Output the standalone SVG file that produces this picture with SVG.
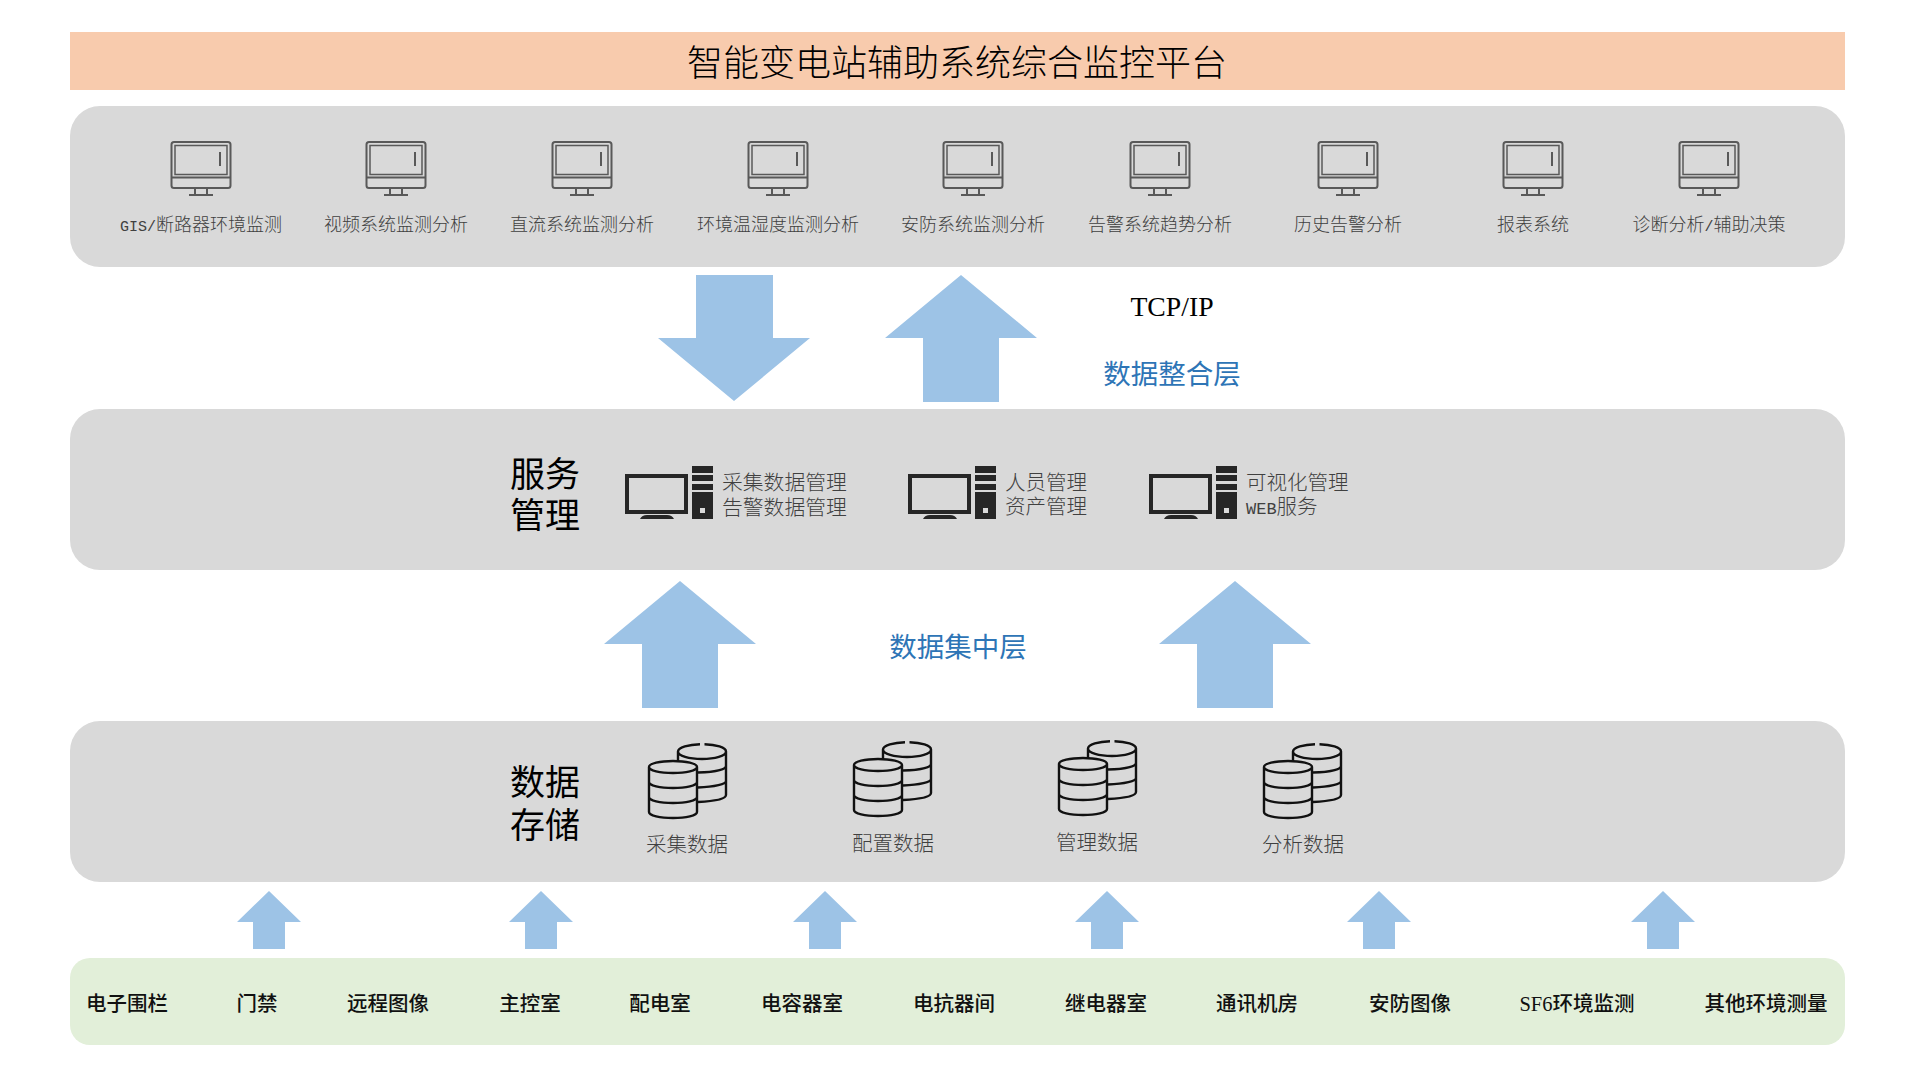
<svg xmlns="http://www.w3.org/2000/svg" width="1920" height="1080" viewBox="0 0 1920 1080">
<style>
text{font-family:"Liberation Serif","Noto Sans CJK SC",serif;text-anchor:middle}
.panel{fill:#d9d9d9}
.arrow{fill:#9dc3e6}
.t18{font-size:18px;fill:#404040;font-weight:300}
.t21{font-size:20.5px;fill:#404040;font-weight:300}
.s{text-anchor:start}
.m{font-family:"Liberation Mono",monospace}
.big{font-size:35px;fill:#000;font-weight:400}
.layer{font-size:27.5px;fill:#2e75b6;font-weight:400}
.bot{font-size:20.5px;fill:#111;font-weight:500}
.ml{fill:none;stroke:#595959;stroke-width:2}
.db{fill:none;stroke:#111;stroke-width:2.400}
</style>
<defs>
<g id="mon">
<rect class="ml" x="-29.500" y="1" width="59" height="46" rx="2.500"/>
<rect class="ml" x="-26" y="4.500" width="52" height="29" style="stroke-width:1.500"/>
<path class="ml" d="M-29.500 36.500H29.500M19 11V25"/>
<path class="ml" d="M-6 47V53M6 47V53M-12 54H12"/>
</g>
<g id="pc">
<path fill="#262626" fill-rule="evenodd" d="M0 8H63V48H0ZM4 12V44H59V12ZM15 53Q17 49 22 49H42Q47 49 49 53Z"/>
<path fill="#262626" fill-rule="evenodd" d="M67 0H88V7H67ZM67 9H88V15H67ZM67 18H88V24H67ZM67 26H88V53H67ZM75 42V47H80V42Z"/>
</g>
<g id="dbi">
<path class="db" d="M29 18V7.500C29 3.500 40 0.500 51 0.200M55.500 0.200C67 0.500 77 3.500 77 7.500V51C77 54.500 68 57 49 58M29 7.500C29 12 40 15 53 15C66 15 77 12 77 7.500M77 22C77 25.500 66 28 49 28.500M77 37C77 40 66 43 49 43.500"/>
<path class="db" d="M0 23C0 19.500 11 17 24 17C37 17 48 19.500 48 23V68C48 71.500 37 74 24 74C11 74 0 71.500 0 68ZM0 23C0 26.500 11 29 24 29C37 29 48 26.500 48 23M0 38C0 41.500 11 44 24 44C37 44 48 41.500 48 38M0 53C0 56.500 11 59 24 59C37 59 48 56.500 48 53"/>
</g>
<path id="small" class="arrow" d="M0 0L32 31H16V58H-16V31H-32Z"/>
<path id="bigup" class="arrow" d="M0 0L76 63H38V127H-38V63H-76Z"/>
</defs>

<g id="title"><rect x="70" y="32" width="1775" height="58" fill="#f8cbad"/><text x="957" y="76" font-size="36" fill="#000" font-weight="300">智能变电站辅助系统综合监控平台</text></g>

<g id="app-panel"><rect class="panel" x="70" y="106" width="1775" height="161" rx="30"/></g>
<g id="n1"><use href="#mon" x="201" y="141"/><text class="t18" x="201" y="231"><tspan class="m" font-size="15">GIS/</tspan>断路器环境监测</text></g>
<g id="n2"><use href="#mon" x="396" y="141"/><text class="t18" x="396" y="231">视频系统监测分析</text></g>
<g id="n3"><use href="#mon" x="582" y="141"/><text class="t18" x="582" y="231">直流系统监测分析</text></g>
<g id="n4"><use href="#mon" x="778" y="141"/><text class="t18" x="778" y="231">环境温湿度监测分析</text></g>
<g id="n5"><use href="#mon" x="973" y="141"/><text class="t18" x="973" y="231">安防系统监测分析</text></g>
<g id="n6"><use href="#mon" x="1160" y="141"/><text class="t18" x="1160" y="231">告警系统趋势分析</text></g>
<g id="n7"><use href="#mon" x="1348" y="141"/><text class="t18" x="1348" y="231">历史告警分析</text></g>
<g id="n8"><use href="#mon" x="1533" y="141"/><text class="t18" x="1533" y="231">报表系统</text></g>
<g id="n9"><use href="#mon" x="1709" y="141"/><text class="t18" x="1709" y="231">诊断分析<tspan class="m" font-size="15">/</tspan>辅助决策</text></g>

<g id="connectors">
<path class="arrow" d="M696 275H773V338H810L734 401L658 338H696Z"/>
<use href="#bigup" x="961" y="275"/>
<use href="#bigup" x="680" y="581"/>
<use href="#bigup" x="1235" y="581"/>
<use href="#small" x="269" y="891"/>
<use href="#small" x="541" y="891"/>
<use href="#small" x="825" y="891"/>
<use href="#small" x="1107" y="891"/>
<use href="#small" x="1379" y="891"/>
<use href="#small" x="1663" y="891"/>
</g>

<g id="labels">
<text x="1172" y="316" font-size="27.700" fill="#000">TCP/IP</text>
<text class="layer" x="1172" y="384">数据整合层</text>
<text class="layer" x="958" y="657">数据集中层</text>
</g>

<g id="service-panel"><rect class="panel" x="70" y="409" width="1775" height="161" rx="30"/>
<text class="big" x="545" y="487">服务</text><text class="big" x="545" y="528">管理</text></g>
<g id="s1"><use href="#pc" x="625" y="466"/><text class="t21 s" x="722" y="490" style="font-size:20.800px">采集数据管理</text><text class="t21 s" x="722" y="515" style="font-size:20.800px">告警数据管理</text></g>
<g id="s2"><use href="#pc" x="908" y="466"/><text class="t21 s" x="1005" y="490">人员管理</text><text class="t21 s" x="1005" y="514">资产管理</text></g>
<g id="s3"><use href="#pc" x="1149" y="466"/><text class="t21 s" x="1246" y="490">可视化管理</text><text class="t21 s" x="1246" y="514"><tspan class="m" font-size="17">WEB</tspan>服务</text></g>

<g id="storage-panel"><rect class="panel" x="70" y="721" width="1775" height="161" rx="30"/>
<text class="big" x="545" y="795">数据</text><text class="big" x="545" y="838">存储</text></g>
<g id="d1"><use href="#dbi" x="649" y="744"/><text class="t21" x="687" y="852">采集数据</text></g>
<g id="d2"><use href="#dbi" x="854" y="742"/><text class="t21" x="893" y="851">配置数据</text></g>
<g id="d3"><use href="#dbi" x="1059" y="741"/><text class="t21" x="1097" y="850">管理数据</text></g>
<g id="d4"><use href="#dbi" x="1264" y="744"/><text class="t21" x="1303" y="852">分析数据</text></g>

<g id="source-panel"><rect x="70" y="958" width="1775" height="87" rx="20" fill="#e2efd9"/></g>
<g id="b1"><text class="bot" x="127" y="1011">电子围栏</text></g>
<g id="b2"><text class="bot" x="257" y="1011">门禁</text></g>
<g id="b3"><text class="bot" x="388" y="1011">远程图像</text></g>
<g id="b4"><text class="bot" x="530" y="1011">主控室</text></g>
<g id="b5"><text class="bot" x="660" y="1011">配电室</text></g>
<g id="b6"><text class="bot" x="802" y="1011">电容器室</text></g>
<g id="b7"><text class="bot" x="954" y="1011">电抗器间</text></g>
<g id="b8"><text class="bot" x="1106" y="1011">继电器室</text></g>
<g id="b9"><text class="bot" x="1257" y="1011">通讯机房</text></g>
<g id="b10"><text class="bot" x="1410" y="1011">安防图像</text></g>
<g id="b11"><text class="bot" x="1577" y="1011">SF6环境监测</text></g>
<g id="b12"><text class="bot" x="1766" y="1011">其他环境测量</text></g>
</svg>
